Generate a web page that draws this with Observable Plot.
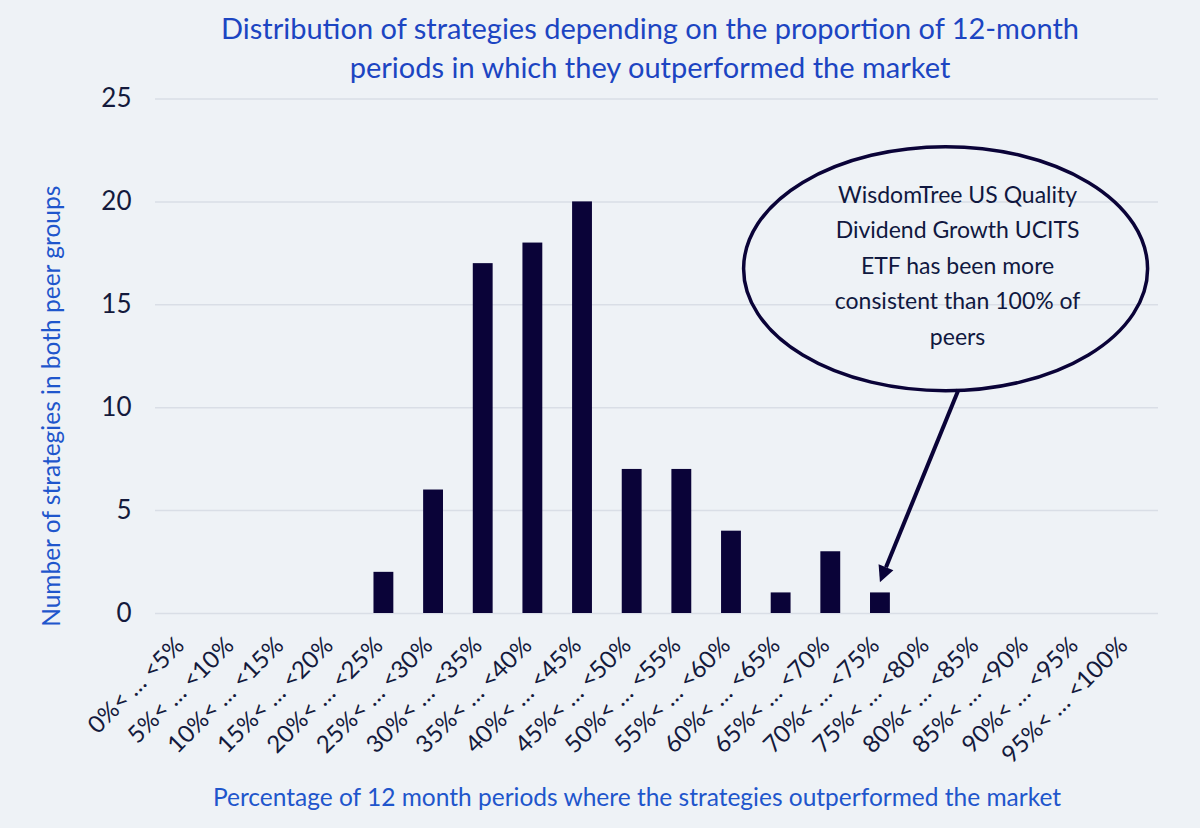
<!DOCTYPE html>
<html>
<head>
<meta charset="utf-8">
<script src="https://cdn.jsdelivr.net/npm/d3@7"></script>
<script src="https://cdn.jsdelivr.net/npm/@observablehq/plot@0.6"></script>
<style>
  html, body { margin: 0; padding: 0; background: #eef2f6; }
  body { width: 1200px; height: 828px; overflow: hidden; font-family: Lato, "Open Sans", sans-serif; }
  #title { height: 76px; box-sizing: border-box; padding-top: 8px; padding-left: 100px; text-align: center; color: #1c45c2; font-size: 29px; line-height: 39px; white-space: nowrap; overflow: visible; }
  #chart svg { display: block; overflow: visible; }
</style>
</head>
<body>
<div id="title">Distribution of strategies depending on the proportion of 12-month<br>periods in which they outperformed the market</div>
<div id="chart"></div>
<script>
const categories = [
  "0%< … <5%", "5%< … <10%", "10%< … <15%", "15%< … <20%", "20%< … <25%",
  "25%< … <30%", "30%< … <35%", "35%< … <40%", "40%< … <45%", "45%< … <50%",
  "50%< … <55%", "55%< … <60%", "60%< … <65%", "65%< … <70%", "70%< … <75%",
  "75%< … <80%", "80%< … <85%", "85%< … <90%", "90%< … <95%", "95%< … <100%"
];
const counts = [0, 0, 0, 0, 2, 6, 17, 18, 20, 7, 7, 4, 1, 3, 1, 0, 0, 0, 0, 0];
const yTicks = [0, 5, 10, 15, 20, 25];
const calloutLines = [
  "WisdomTree US Quality",
  "Dividend Growth UCITS",
  "ETF has been more",
  "consistent than 100% of",
  "peers"
];
const highlightCategory = "70%< … <75%";
const highlightValue = 1;

const data = categories.map((c, i) => ({category: c, count: counts[i]}));

const navy = "#0a0338";
const blue = "#1f56cc";

// Callout annotation drawn with the plot's own scales
function callout(index, scales) {
  const x = scales.x, y = scales.y;
  const bw = x.bandwidth ? x.bandwidth() : 0;
  const base = x(categories[15]) + bw / 2;
  const cy = y(16.73);
  const rx = 202, ry = y(10.8) - cy;
  const ns = "http://www.w3.org/2000/svg";
  const g = document.createElementNS(ns, "g");
  const ell = document.createElementNS(ns, "ellipse");
  ell.setAttribute("cx", base + 16);
  ell.setAttribute("cy", cy);
  ell.setAttribute("rx", rx);
  ell.setAttribute("ry", ry);
  ell.setAttribute("fill", "none");
  ell.setAttribute("stroke", navy);
  ell.setAttribute("stroke-width", 3.5);
  g.appendChild(ell);
  // arrow from ellipse bottom to the highlighted bar
  const x1 = base + 29, y1 = cy + ry * 0.99;
  const x2 = x(highlightCategory) + bw / 2, y2 = y(highlightValue + 0.5);
  const ang = Math.atan2(y2 - y1, x2 - x1);
  const head = 16, hw = 8;
  const bx = x2 - head * Math.cos(ang), by = y2 - head * Math.sin(ang);
  const line = document.createElementNS(ns, "line");
  line.setAttribute("x1", x1); line.setAttribute("y1", y1);
  line.setAttribute("x2", bx); line.setAttribute("y2", by);
  line.setAttribute("stroke", navy);
  line.setAttribute("stroke-width", 4);
  g.appendChild(line);
  const px = -Math.sin(ang), py = Math.cos(ang);
  const poly = document.createElementNS(ns, "polygon");
  poly.setAttribute("points", `${x2},${y2} ${bx + px * hw},${by + py * hw} ${bx - px * hw},${by - py * hw}`);
  poly.setAttribute("fill", navy);
  g.appendChild(poly);
  // text
  calloutLines.forEach((t, i) => {
    const tx = document.createElementNS(ns, "text");
    tx.setAttribute("x", base + 28);
    tx.setAttribute("y", cy - 72 + i * 35.5);
    tx.setAttribute("text-anchor", "middle");
    tx.setAttribute("dominant-baseline", "middle");
    tx.setAttribute("fill", "#101840");
    tx.setAttribute("font-size", 23);
    tx.textContent = t;
    g.appendChild(tx);
  });
  return g;
}

const plot = Plot.plot({
  width: 1200,
  height: 752,
  marginTop: 22.5,
  marginBottom: 215,
  marginLeft: 155,
  marginRight: 42,
  style: {background: "transparent", fontFamily: "Lato, 'Open Sans', sans-serif", overflow: "visible"},
  x: {domain: categories, paddingInner: 0.6, paddingOuter: 0.4, round: false, label: null},
  y: {domain: [0, 25], ticks: yTicks, label: null},
  marks: [
    Plot.gridY(yTicks, {stroke: "#d9dee6", strokeOpacity: 1, strokeWidth: 1.5}),
    Plot.barY(data, {x: "category", y: "count", fill: navy}),
    Plot.axisY({ticks: yTicks, tickSize: 0, tickPadding: 24, fontSize: 26, color: "#141a3c", label: null}),
    Plot.axisX({tickSize: 0, tickRotate: -45, tickPadding: 4, fontSize: 24, color: "#141a3c", label: null, dx: -5, dy: 24}),
    Plot.text(["Number of strategies in both peer groups"], {frameAnchor: "left", textAnchor: "middle", rotate: -90, dx: -103, dy: 50, fontSize: 24.5, fill: blue}),
    Plot.text(["Percentage of 12 month periods where the strategies outperformed the market"], {frameAnchor: "bottom", dy: 192, dx: -20, fontSize: 24.5, fill: blue, wordSpacing: 6}),
    callout
  ]
});
document.getElementById("chart").appendChild(plot);
</script>
</body>
</html>
